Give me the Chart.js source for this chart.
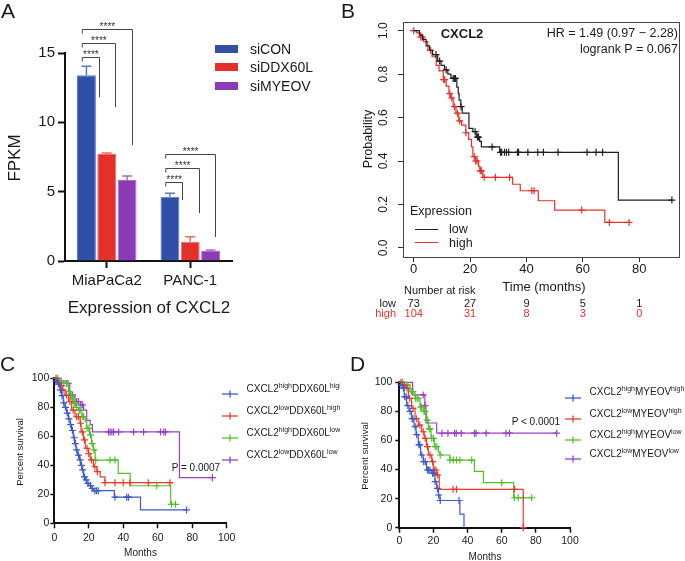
<!DOCTYPE html>
<html>
<head>
<meta charset="utf-8">
<title>CXCL2 figure</title>
<script src="https://cdn.jsdelivr.net/npm/chart.js@4.4.1/dist/chart.umd.min.js"></script>
<style>
  body { margin: 0; background: #fff; }
  #fig { position: relative; width: 685px; height: 561px; overflow: hidden; background: #fff;
         font-family: "Liberation Sans", Arial, Helvetica, sans-serif; color: #1a1a1a; }
  .box { position: absolute; overflow: hidden; }
  .box canvas { position: absolute; left: 0; top: 0; }
  .t { position: absolute; white-space: nowrap; line-height: 1; }
  .c { transform: translate(-50%, -50%); }
  .l { transform: translate(0, -50%); }
  .r { transform: translate(-100%, -50%); }
  .v { transform: translate(-50%, -50%) rotate(-90deg); }
  sup { font-size: 7px; line-height: 0; vertical-align: 4px; }
</style>
</head>
<body>
<div id="fig">
  <div class="box" id="pA" style="left:0;top:0;width:340px;height:300px"><canvas id="cA" width="340" height="300"></canvas></div>
  <div class="box" id="pB" style="left:340px;top:0;width:345px;height:300px"><canvas id="cB" width="345" height="300"></canvas></div>
  <div class="box" id="pC" style="left:0;top:340px;width:340px;height:221px"><canvas id="cC" width="340" height="221"></canvas></div>
  <div class="box" id="pD" style="left:340px;top:340px;width:345px;height:221px"><canvas id="cD" width="345" height="221"></canvas></div>
</div>
<script>
// ---------- data ----------
// panel A
const cellLines = ['MiaPaCa2', 'PANC-1'];
const siCON = [13.4, 4.64];
const siDDX60L = [7.71, 1.39];
const siMYEOV = [5.84, 0.72];
const semCON = [0.65, 0.24];
const semDDX60L = [0.07, 0.36];
const semMYEOV = [0.29, 0.07];
const fpkmTicks = [0, 5, 10, 15];
// bracket heights (FPKM): vs siDDX60L, vs siMYEOV... shortest first
const sigTop = [[14.7, 15.72, 16.73], [5.7, 6.71, 7.71]];
const sigEnd = [[11.82, 11.1, 8.36], [4.4, 3.46, 1.73]];

// panel B
const lowT = [0, 2, 3.2, 4.4, 5.6, 6.7, 8.5, 9.7, 10.9, 12.1, 13.2, 15.3, 15.8, 16.1, 16.7, 17.2, 19.6, 21, 22.2, 23.4, 24, 30.5, 72.6, 91.6];
const lowS = [1, .98, .96, .93, .91, .89, .86, .84, .82, .80, .78, .74, .71, .68, .65, .62, .55, .535, .51, .49, .465, .44, .22, .22];
const lowCens = [7.9, 9.2, 11.5, 14, 14.4, 14.8, 16.8, 21.8, 22.6, 23, 27.8, 30.8, 31.2, 32.2, 32.9, 33.7, 36.8, 37.2, 40.5, 44, 46, 51.2, 61.5, 64.7, 67, 91.6];
const highT = [0, 1, 2.5, 3.5, 5, 6.5, 8, 9, 10.5, 11.5, 12.5, 13, 14, 15, 16, 17, 18.5, 19.5, 20.5, 21, 22, 23, 23.5, 24.5, 35.1, 37.8, 44.2, 50, 67.8, 76.4];
const highS = [1, .99, .97, .95, .91, .88, .84, .815, .775, .745, .71, .69, .65, .62, .585, .565, .53, .50, .465, .42, .40, .375, .355, .325, .293, .263, .217, .174, .117, .117];
const highCens = [0, 2.5, 3, 6, 10.6, 11, 12.8, 13.5, 14.5, 15.5, 16.3, 18.5, 21.5, 22, 22.5, 23.6, 24, 25, 29, 34, 41.9, 42.7, 59.6, 69.4, 76.4];
const bTimeTicks = [0, 20, 40, 60, 80];
const bProbTicks = [0, 0.2, 0.4, 0.6, 0.8, 1];
const riskTimes = [0, 20, 40, 60, 80];
const riskLow = [73, 27, 9, 5, 1];
const riskHigh = [104, 31, 8, 3, 0];

// panel C (CXCL2 level, DDX60L level)
const cHHt = [0, 1, 2, 3.3, 4.2, 5.2, 6.2, 7.2, 8.2, 9.1, 10, 11, 11.8, 12.6, 13.6, 14.6, 15.3, 16, 17, 18, 18.8, 20, 21.7, 22.7, 34.8, 50, 76.7];
const cHHs = [100, 98, 96, 92, 88, 83, 80, 76, 72, 68, 64, 59, 55, 50.6, 47, 43.7, 40, 36.8, 32, 30, 27.6, 26, 24, 22.5, 18, 9.2, 9.2];
const cHHc = [1, 2.5, 3.5, 4.5, 5.5, 6.5, 7.5, 8.5, 9.5, 10.5, 11.5, 12.2, 13, 14, 15, 15.8, 16.5, 17.5, 18.5, 19.5, 21, 22, 23.5, 24.5, 25.5, 35.2, 42, 43, 76.7];
const cLHt = [0, 2, 3.3, 4.5, 6.2, 8.2, 10.1, 12, 15, 15.5, 16.9, 18, 19.8, 20.8, 22.7, 24.7, 26.6, 29.4, 68.1];
const cLHs = [100, 97, 95, 92, 88.5, 84, 78, 73.5, 69, 63, 57.5, 51.7, 48, 43.7, 39, 35.6, 32, 28, 28];
const cLHc = [1, 2.5, 4, 5, 7, 9, 11, 13, 14, 15.2, 16.2, 17.5, 19, 20, 21.5, 23.5, 25, 29.4, 35.2, 40, 43.9, 54.5, 67.1];
const cHLt = [0, 3, 5, 8.2, 9.5, 11, 12.5, 14, 16, 17.9, 18.8, 20.4, 21.5, 22.7, 23.7, 37.1, 44, 67.5, 70.3];
const cHLs = [100, 98, 96.5, 91, 87, 83, 80, 78, 73.5, 70, 65.5, 61, 55, 50.6, 43.6, 34.5, 25.9, 13.1, 13.1];
const cHLc = [2, 5.5, 7, 8.5, 9.8, 10.5, 11.5, 12, 13, 14.5, 15, 16.5, 17, 19, 20, 21, 22, 23, 24, 32.3, 35.2, 59.4, 68, 70.3];
const cLLt = [0, 4, 7.2, 9, 12, 15, 17, 18.8, 20.8, 22.1, 72.6, 91.7];
const cLLs = [100, 98, 96.5, 88.5, 84, 81.6, 78, 71, 68, 63, 31.5, 31.5];
const cLLc = [8, 9.5, 10.5, 13, 14, 15.5, 16.5, 31.5, 32.4, 33.4, 34.4, 37.3, 46, 51.8, 61.6, 63.5, 64.5, 91.7];

// panel D (CXCL2 level, MYEOV level)
const dHHt = [0, 1, 2, 2.9, 4.3, 5.7, 7.2, 8.6, 9.8, 11.1, 12.5, 14, 16, 19, 20.9, 21.9, 22.9, 23.8, 35.5, 37.9];
const dHHs = [100, 98, 96, 90, 84, 80, 75, 69.5, 64, 57, 50, 45.4, 39.7, 37.4, 31.7, 27, 22.5, 18.7, 9.4, 0];
const dHHc = [1, 2.3, 3.2, 4, 5, 6.3, 7.5, 8, 9.3, 10.2, 11.5, 12, 13.2, 14.3, 15.2, 16.5, 17.2, 18, 19.5, 20.2, 21, 22.3, 23, 24, 35];
const dLHt = [0, 2, 3.5, 5.3, 7.2, 9.2, 11.1, 13.1, 14.6, 16, 17, 19, 19.9, 21.9, 23.4, 72.6];
const dLHs = [100, 98, 96, 89, 82, 75, 70.6, 66, 61.5, 55.7, 50, 45.4, 39.7, 36.2, 26.4, 0];
const dLHc = [1, 3, 4.5, 6, 8, 10, 12, 14, 15.2, 16.5, 18, 19.5, 20.5, 21.5, 22.5, 31.5, 33.5, 67.5, 72.6];
const dHLt = [0, 3, 6.25, 9.2, 12.1, 14, 16, 17, 18.6, 20.5, 22.9, 23.8, 29.5, 44, 49.3, 67, 77.5];
const dHLs = [100, 98, 93.6, 89, 83, 80, 74, 68, 61.5, 55.7, 52, 50, 46.5, 38.7, 31, 20.6, 20.6];
const dHLc = [2, 4, 5, 7, 8, 9.5, 10.5, 11, 12.5, 13, 14.5, 15, 16.5, 17.5, 18, 19, 20, 21, 22, 24, 29.7, 31.6, 33.6, 35.5, 42.4, 60, 67.4, 69.7, 72.7, 77.5];
const dLLt = [0, 7.8, 15, 15.6, 21.9, 92.2];
const dLLs = [100, 91.3, 84, 72, 65, 65];
const dLLc = [14, 15, 25, 28.5, 32.4, 33.4, 36.3, 44, 45, 50.9, 62.5, 64.5, 92.2];

const pctTicks = [0, 20, 40, 60, 80, 100];
const monthTicks = [0, 20, 40, 60, 80, 100];
const groupLevels = [['high', 'high'], ['low', 'high'], ['high', 'low'], ['low', 'low']];

// ---------- styling ----------
const FONT = '"Liberation Sans", Arial, Helvetica, sans-serif';
Chart.defaults.font.family = FONT;
Chart.defaults.color = '#1a1a1a';

const barFill = ['#3050a8', '#e3302a', '#8b3cb4'];
const barEdge = ['#5c78c8', '#f06a60', '#a66ccc'];
const kmColors = ['#3a5bcc', '#ee3a2c', '#4fc128', '#9a3fca'];
const bLow = '#1f1f1f';
const bHigh = '#e8302a';

const fig = document.getElementById('fig');
function addText(parent, html, x, y, cls, css) {
    const s = document.createElement('span');
    s.className = 't ' + cls;
    s.innerHTML = html;
    s.style.left = x + 'px';
    s.style.top = y + 'px';
    s.style.cssText += css || '';
    parent.appendChild(s);
    return s;
}
function fixedTicks(list) {
    return s => { s.ticks = list.map(v => ({ value: v })); };
}
function survAt(T, S, t) {
    let i = 0;
    while (i + 1 < T.length && T[i + 1] <= t) i++;
    return S[i];
}

// error bars (upper half, GraphPad style)
const errorBars = {
    id: 'errorBars',
    afterDatasetsDraw(chart) {
        const ctx = chart.ctx, y = chart.scales.y;
        chart.data.datasets.forEach((ds, i) => {
            chart.getDatasetMeta(i).data.forEach((bar, j) => {
                const top = y.getPixelForValue(ds.data[j] + ds.err[j]);
                ctx.save();
                ctx.strokeStyle = ds.borderColor;
                ctx.lineWidth = 1.5;
                ctx.beginPath();
                ctx.moveTo(bar.x, bar.y);
                ctx.lineTo(bar.x, top);
                ctx.moveTo(bar.x - 5, top);
                ctx.lineTo(bar.x + 5, top);
                ctx.stroke();
                ctx.restore();
            });
        });
    }
};

// significance brackets
const sigBrackets = {
    id: 'sigBrackets',
    afterDraw(chart) {
        const ctx = chart.ctx, x = chart.scales.x, y = chart.scales.y;
        const rightOff = [-8, 8.5, 25];
        ctx.save();
        ctx.strokeStyle = '#444';
        ctx.lineWidth = 1;
        ctx.fillStyle = '#333';
        ctx.font = '10px ' + FONT;
        ctx.textAlign = 'center';
        ctx.textBaseline = 'alphabetic';
        sigTop.forEach((tops, g) => {
            const c = x.getPixelForValue(g);
            const left = c - 24.5;
            tops.forEach((v, k) => {
                const yt = Math.round(y.getPixelForValue(v)) + 0.5;
                const ye = y.getPixelForValue(sigEnd[g][k]);
                const right = Math.round(c + rightOff[k]) + 0.5;
                ctx.beginPath();
                ctx.moveTo(left, yt + 4);
                ctx.lineTo(left, yt);
                ctx.lineTo(right, yt);
                ctx.lineTo(right, ye);
                ctx.stroke();
                ctx.fillText('****', (left + right) / 2, yt + 0.5);
            });
        });
        ctx.restore();
    }
};

// ---------- panel A ----------
new Chart(document.getElementById('cA'), {
    type: 'bar',
    data: {
        labels: cellLines,
        datasets: [
            { label: 'siCON', data: siCON, err: semCON, backgroundColor: barFill[0], borderColor: barEdge[0], borderWidth: 1 },
            { label: 'siDDX60L', data: siDDX60L, err: semDDX60L, backgroundColor: barFill[1], borderColor: barEdge[1], borderWidth: 1 },
            { label: 'siMYEOV', data: siMYEOV, err: semMYEOV, backgroundColor: barFill[2], borderColor: barEdge[2], borderWidth: 1 }
        ]
    },
    options: {
        responsive: false, animation: false, devicePixelRatio: 1,
        layout: { padding: { left: 0, right: 108, top: 53, bottom: 0 } },
        datasets: { bar: { categoryPercentage: 0.73, barPercentage: 0.93 } },
        plugins: { legend: { display: false }, tooltip: { enabled: false } },
        scales: {
            x: {
                grid: { drawOnChartArea: false, offset: false, tickLength: 7, tickWidth: 2, color: '#111' },
                border: { color: '#111', width: 2 },
                ticks: { font: { size: 15 }, padding: 4, color: '#1a1a1a' },
                afterFit: s => { s.height = 39; }
            },
            y: {
                min: 0, max: 15,
                afterBuildTicks: fixedTicks(fpkmTicks),
                grid: { drawOnChartArea: false, tickLength: 7, tickWidth: 2, color: '#111' },
                border: { color: '#111', width: 2 },
                ticks: { font: { size: 15 }, padding: 3, color: '#1a1a1a' },
                afterFit: s => { s.width = 65; }
            }
        }
    },
    plugins: [errorBars, sigBrackets]
});

addText(fig, 'A', 1, 9.5, 'l', 'font-size:21px');
addText(fig, 'FPKM', 14, 157.5, 'v', 'font-size:17px');
addText(fig, 'Expression of CXCL2', 149, 307, 'c', 'font-size:17px');
['siCON', 'siDDX60L', 'siMYEOV'].forEach((name, i) => {
    const yc = [48.7, 67, 86.3][i];
    const sw = document.createElement('div');
    sw.style.cssText = 'position:absolute;left:215px;width:23px;height:8px;top:' + (yc - 4) + 'px;background:' + barFill[i];
    fig.appendChild(sw);
    addText(fig, name, 250, yc, 'l', 'font-size:14px');
});

// ---------- KM helpers ----------
function kmDatasets(curves, lw, r) {
    const out = [];
    curves.forEach(k => {
        out.push({ data: k.C.map(t => ({ x: t, y: survAt(k.T, k.S, t) })), showLine: false,
                   pointStyle: 'cross', pointRadius: r, pointBorderWidth: lw, borderWidth: lw,
                   borderColor: k.color, clip: false });
        out.push({ data: k.T.map((t, i) => ({ x: t, y: k.S[i] })), borderColor: k.color,
                   borderWidth: lw, pointRadius: 0, stepped: 'before', fill: false, clip: false });
    });
    return out;
}

// ---------- panel B ----------
const frameB = {
    id: 'frameB',
    afterDraw(chart) {
        const a = chart.chartArea, ctx = chart.ctx, s = chart.scales.y;
        ctx.save();
        ctx.strokeStyle = '#444';
        ctx.lineWidth = 1;
        ctx.strokeRect(Math.round(a.left) + 0.5, Math.round(a.top) + 0.5,
                       Math.round(a.right - a.left) - 1, Math.round(a.bottom - a.top));
        ctx.fillStyle = '#1a1a1a';
        ctx.font = '12px ' + FONT;
        ctx.textAlign = 'center';
        ctx.textBaseline = 'middle';
        s.ticks.forEach(t => {
            ctx.save();
            ctx.translate(a.left - 19.5, s.getPixelForValue(t.value));
            ctx.rotate(-Math.PI / 2);
            ctx.fillText(t.value.toFixed(1), 0, 0);
            ctx.restore();
        });
        ctx.restore();
    }
};

const chartB = new Chart(document.getElementById('cB'), {
    type: 'line',
    data: { datasets: kmDatasets([
        { T: lowT, S: lowS, C: lowCens, color: bLow },
        { T: highT, S: highS, C: highCens, color: bHigh }
    ], 1.2, 3.5) },
    options: {
        responsive: false, animation: false, devicePixelRatio: 1,
        layout: { padding: { left: 0, right: 2, top: 22, bottom: 0 } },
        plugins: { legend: { display: false }, tooltip: { enabled: false } },
        scales: {
            x: {
                type: 'linear', min: -3.8, max: 94.4,
                afterBuildTicks: fixedTicks(bTimeTicks),
                grid: { drawOnChartArea: false, tickLength: 5, tickWidth: 1, color: '#333' },
                border: { display: false },
                ticks: { font: { size: 13 }, padding: 0, color: '#1a1a1a' },
                afterFit: s => { s.height = 43; }
            },
            y: {
                min: -0.042, max: 1.04,
                afterBuildTicks: fixedTicks(bProbTicks),
                grid: { drawOnChartArea: false, tickLength: 5, tickWidth: 1, color: '#333' },
                border: { display: false },
                ticks: { display: false },
                afterFit: s => { s.width = 63; }
            }
        }
    },
    plugins: [frameB]
});

addText(fig, 'B', 341, 9.5, 'l', 'font-size:21px');
addText(fig, 'CXCL2', 462, 33.3, 'c', 'font-size:13px;font-weight:bold');
addText(fig, 'HR = 1.49 (0.97 \u2212 2.28)', 678, 33.3, 'r', 'font-size:12.5px');
addText(fig, 'logrank P = 0.067', 678, 49.3, 'r', 'font-size:12.5px');
addText(fig, 'Probability', 368.3, 138.5, 'v', 'font-size:12.5px');
addText(fig, 'Time (months)', 544, 285.7, 'c', 'font-size:13px');
addText(fig, 'Number at risk', 404, 289.5, 'l', 'font-size:11px');
addText(fig, 'Expression', 410, 211, 'l', 'font-size:12.5px');
[['low', bLow, 229.3], ['high', bHigh, 242.7]].forEach(([name, col, yc]) => {
    const ln = document.createElement('div');
    ln.style.cssText = 'position:absolute;left:415px;width:23px;height:0;border-top:1.3px solid ' + col + ';top:' + (yc - 0.6) + 'px';
    fig.appendChild(ln);
    addText(fig, name, 449, yc, 'l', 'font-size:12.5px');
});
addText(fig, 'low', 396, 303.3, 'r', 'font-size:11px');
addText(fig, 'high', 396, 313.3, 'r', 'font-size:11px;color:' + bHigh);
riskTimes.forEach((t, i) => {
    const px = 340 + chartB.scales.x.getPixelForValue(t);
    addText(fig, String(riskLow[i]), px, 303.3, 'c', 'font-size:11px');
    addText(fig, String(riskHigh[i]), px, 313.3, 'c', 'font-size:11px;color:' + bHigh);
});

// ---------- panels C and D ----------
function kmPanel(id, curves, area) {
    return new Chart(document.getElementById(id), {
        type: 'line',
        data: { datasets: kmDatasets(curves, 1.2, 3.5) },
        options: {
            responsive: false, animation: false, devicePixelRatio: 1,
            layout: { padding: { left: 0, right: area.right, top: area.top, bottom: 0 } },
            plugins: { legend: { display: false }, tooltip: { enabled: false } },
            scales: {
                x: {
                    type: 'linear', min: 0, max: 100,
                    afterBuildTicks: fixedTicks(monthTicks),
                    grid: { drawOnChartArea: false, tickLength: 5, tickWidth: 1.5, color: '#111' },
                    border: { color: '#111', width: 2 },
                    ticks: { font: { size: 10.5 }, padding: area.xPad, color: '#1a1a1a' },
                    afterFit: s => { s.height = area.xh; }
                },
                y: {
                    min: 0, max: 100,
                    afterBuildTicks: fixedTicks(pctTicks),
                    grid: { drawOnChartArea: false, tickLength: 4, tickWidth: 1.5, color: '#111' },
                    border: { color: '#111', width: 2 },
                    ticks: { font: { size: 10.5 }, padding: area.yPad, color: '#1a1a1a' },
                    afterFit: s => { s.width = area.yw; }
                }
            }
        }
    });
}

function kmLegend(parent, x0, ys, gene) {
    groupLevels.forEach(([a, b], i) => {
        const m = document.createElement('div');
        m.style.cssText = 'position:absolute;left:' + x0 + 'px;top:' + (ys[i] - 4) + 'px;width:16px;height:8px';
        m.innerHTML = '<svg width="16" height="8"><line x1="0" y1="4" x2="16" y2="4" stroke="' + kmColors[i] +
            '" stroke-width="1.3"/><line x1="8" y1="0.5" x2="8" y2="7.5" stroke="' + kmColors[i] + '" stroke-width="1.3"/></svg>';
        parent.appendChild(m);
        addText(parent, 'CXCL2<sup>' + a + '</sup>' + gene + '<sup>' + b + '</sup>', x0 + 25, ys[i] + 0.5, 'l', 'font-size:10px');
    });
}

kmPanel('cC', [
    { T: cHHt, S: cHHs, C: cHHc, color: kmColors[0] },
    { T: cLHt, S: cLHs, C: cLHc, color: kmColors[1] },
    { T: cHLt, S: cHLs, C: cHLc, color: kmColors[2] },
    { T: cLLt, S: cLLs, C: cLLc, color: kmColors[3] }
], { top: 38.3, right: 113.3, yw: 54.3, xh: 37.7, xPad: 3.5, yPad: 1 });

const pC = document.getElementById('pC');
addText(fig, 'C', 0, 362.5, 'l', 'font-size:21px');
addText(fig, 'Percent survival', 20, 451.7, 'v', 'font-size:9.5px');
addText(fig, 'Months', 140.5, 553.3, 'c', 'font-size:10px');
addText(fig, 'P = 0.0007', 171.7, 468.3, 'l', 'font-size:10px');
kmLegend(pC, 221.5, [388.3 - 340, 410 - 340, 432 - 340, 454 - 340], 'DDX60L');

kmPanel('cD', [
    { T: dHHt, S: dHHs, C: dHHc, color: kmColors[0] },
    { T: dLHt, S: dLHs, C: dLHc, color: kmColors[1] },
    { T: dHLt, S: dHLs, C: dHLc, color: kmColors[2] },
    { T: dLLt, S: dLLs, C: dLLc, color: kmColors[3] }
], { top: 42.3, right: 115, yw: 59.3, xh: 33.3, xPad: 1.7, yPad: 3 });

const pD = document.getElementById('pD');
addText(fig, 'D', 350, 363, 'l', 'font-size:21px');
addText(fig, 'Percent survival', 365, 455.8, 'v', 'font-size:9.5px');
addText(fig, 'Months', 485, 556.7, 'c', 'font-size:10px');
addText(fig, 'P &lt; 0.0001', 511.7, 421.7, 'l', 'font-size:10px');
kmLegend(pD, 564.5 - 340, [391.7 - 340, 413 - 340, 434 - 340, 453 - 340], 'MYEOV');
</script>
</body>
</html>
